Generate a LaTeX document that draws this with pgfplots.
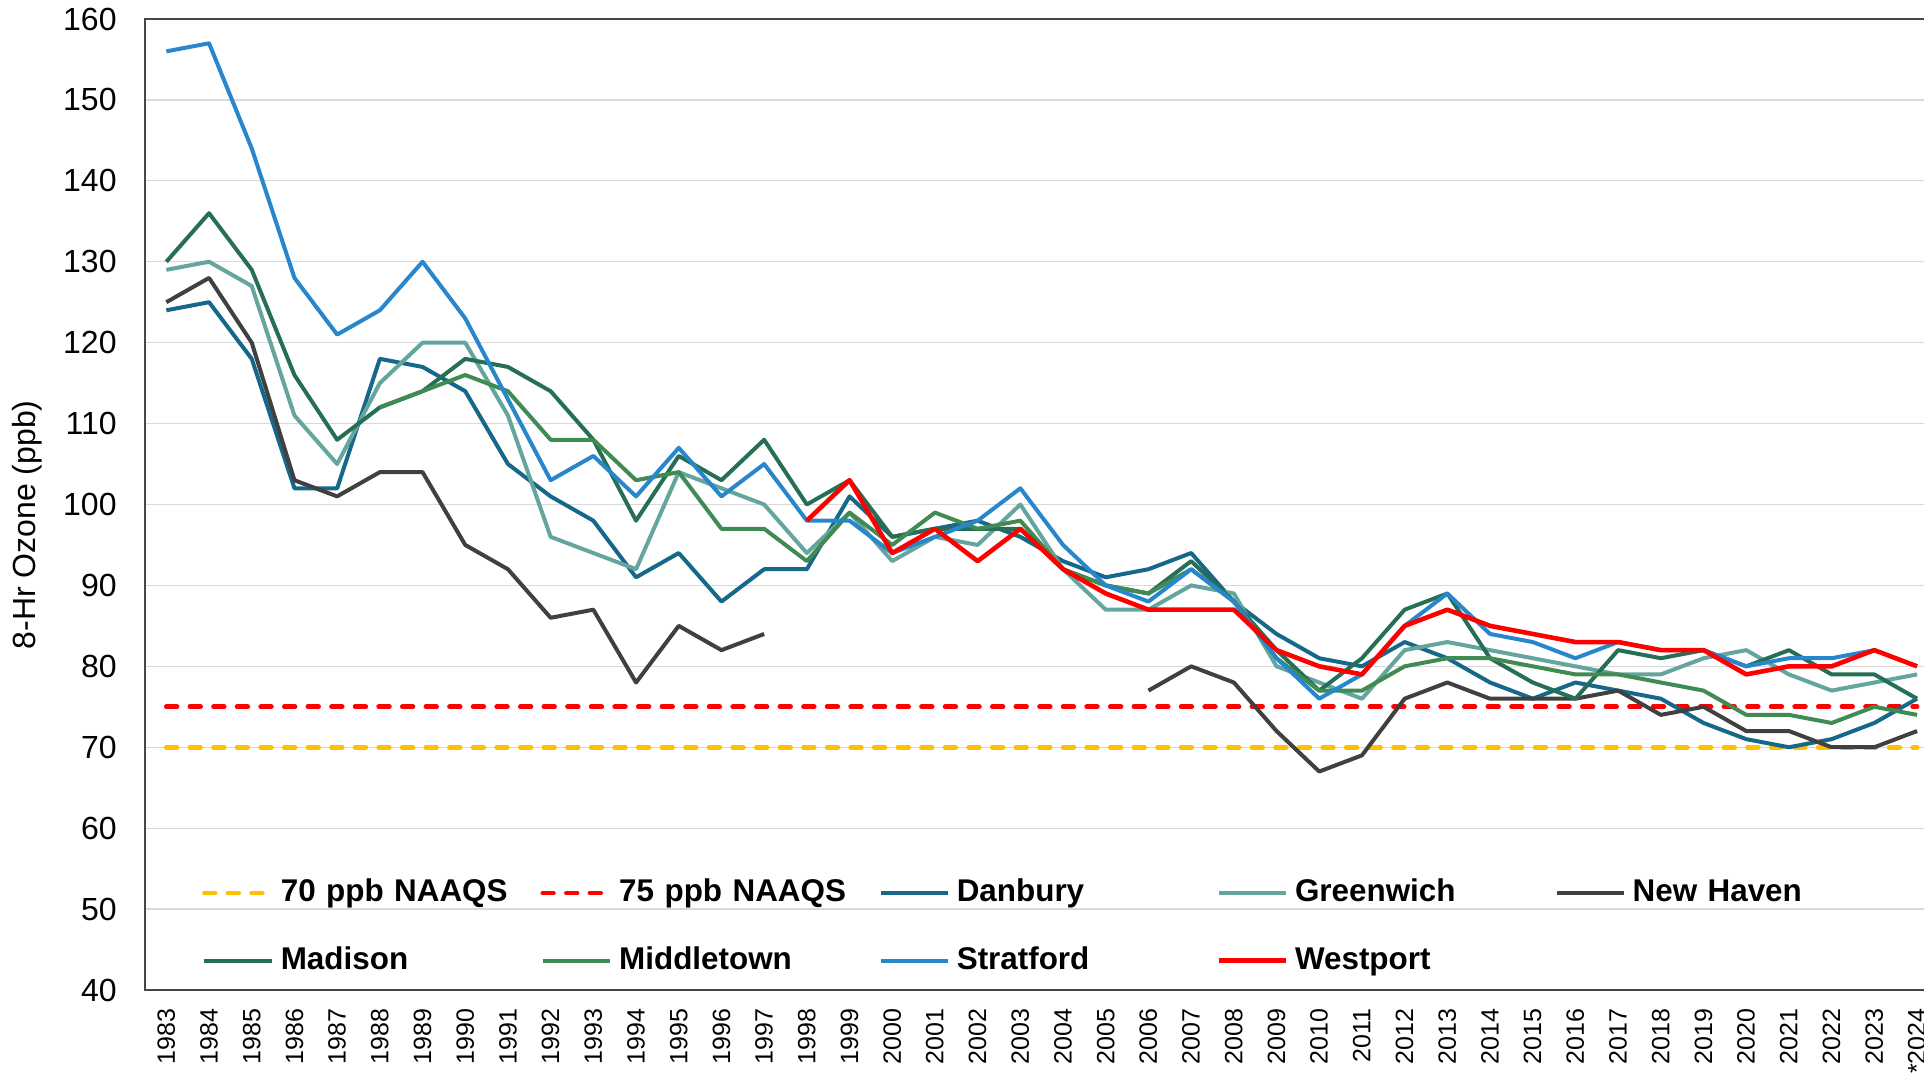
\documentclass[border=0pt]{standalone}
\usepackage{pgfplots}
\pgfplotsset{compat=1.18}
\usepackage{fontspec}
\setmainfont{Liberation Sans}
\definecolor{cDan}{RGB}{22,104,138}
\definecolor{cGre}{RGB}{100,165,158}
\definecolor{cNH}{RGB}{64,64,64}
\definecolor{cMad}{RGB}{38,110,86}
\definecolor{cMid}{RGB}{64,138,84}
\definecolor{cStr}{RGB}{40,134,204}
\definecolor{cWes}{RGB}{255,0,0}
\definecolor{cSeventy}{RGB}{255,192,0}
\definecolor{gridc}{RGB}{217,217,217}
\definecolor{axc}{RGB}{70,70,70}
\begin{document}
\begin{tikzpicture}
\useasboundingbox (-72.5pt,-43pt) rectangle (889.5pt,495pt);
\begin{axis}[
  at={(0pt,0pt)}, anchor=south west,
  scale only axis, width=896.7pt, height=485.5pt,
  xmin=1982.5, xmax=2024.5, ymin=40, ymax=160,
  xtick={1983,1984,...,2024},
  xticklabels={1983,1984,1985,1986,1987,1988,1989,1990,1991,1992,1993,1994,1995,1996,1997,1998,1999,2000,2001,2002,2003,2004,2005,2006,2007,2008,2009,2010,2011,2012,2013,2014,2015,2016,2017,2018,2019,2020,2021,2022,2023,*2024},
  ytick={40,50,...,160},
  ymajorgrids, grid style={color=gridc, line width=0.65pt},
  major tick length=0pt,
  axis line style={color=axc, line width=1.3pt},
  /pgf/number format/assume math mode=true,
  yticklabel style={font=\fontsize{16}{16}\selectfont, anchor=east, inner sep=0pt, xshift=-14pt},
  xticklabel style={font=\fontsize{12.5}{12.5}\selectfont, rotate=90, anchor=east, inner sep=0pt},
  xticklabel shift=9pt,
  ylabel={8-Hr Ozone (ppb)},
  ylabel style={font=\fontsize{16}{16}\selectfont, at={(axis description cs:-0.0655,0.479)}, anchor=center},
  unbounded coords=jump,
  legend columns=5,
  legend cell align=left,
  legend style={draw=none, fill=none, inner sep=0pt, outer sep=0pt,
    at={(axis description cs:0.0318,0.0651)}, anchor=west,
    font=\fontsize{15.7}{15.7}\selectfont\bfseries,
    nodes={text width=120pt, inner xsep=3.3pt, inner ysep=0pt, text height=12pt, text depth=3.5pt, align=left},
    row sep=18.25pt,
    /tikz/every even column/.append style={column sep=6.5pt}},
  legend image code/.code={\draw[#1] (0pt,0pt) -- (33.7pt,0pt);},
  every axis plot/.append style={line width=2pt, line join=round},
]
\addplot[color=cSeventy, line width=2.4pt, dash pattern=on 5.3pt off 6.5pt, line cap=round] coordinates {(1983,70) (2024,70)};
\addlegendentry{70 ppb NAAQS}
\addplot[color=cWes, line width=2.4pt, dash pattern=on 5.3pt off 6.5pt, line cap=round] coordinates {(1983,75) (2024,75)};
\addlegendentry{75 ppb NAAQS}
\addplot[color=cDan] coordinates {
(1983,124) (1984,125) (1985,118) (1986,102) (1987,102) (1988,118) (1989,117) (1990,114) (1991,105) (1992,101)
(1993,98) (1994,91) (1995,94) (1996,88) (1997,92) (1998,92) (1999,101) (2000,96) (2001,97) (2002,98)
(2003,96) (2004,93) (2005,91) (2006,92) (2007,94) (2008,88) (2009,84) (2010,81) (2011,80) (2012,83)
(2013,81) (2014,78) (2015,76) (2016,78) (2017,77) (2018,76) (2019,73) (2020,71) (2021,70) (2022,71)
(2023,73) (2024,76)};
\addlegendentry{Danbury}
\addplot[color=cGre] coordinates {
(1983,129) (1984,130) (1985,127) (1986,111) (1987,105) (1988,115) (1989,120) (1990,120) (1991,111) (1992,96)
(1993,94) (1994,92) (1995,104) (1996,102) (1997,100) (1998,94) (1999,99) (2000,93) (2001,96) (2002,95)
(2003,100) (2004,92) (2005,87) (2006,87) (2007,90) (2008,89) (2009,80) (2010,78) (2011,76) (2012,82)
(2013,83) (2014,82) (2015,81) (2016,80) (2017,79) (2018,79) (2019,81) (2020,82) (2021,79) (2022,77)
(2023,78) (2024,79)};
\addlegendentry{Greenwich}
\addplot[color=cNH] coordinates {
(1983,125) (1984,128) (1985,120) (1986,103) (1987,101) (1988,104) (1989,104) (1990,95) (1991,92) (1992,86)
(1993,87) (1994,78) (1995,85) (1996,82) (1997,84) (1998,nan)
(2006,77) (2007,80) (2008,78) (2009,72) (2010,67) (2011,69) (2012,76)
(2013,78) (2014,76) (2015,76) (2016,76) (2017,77) (2018,74) (2019,75) (2020,72) (2021,72) (2022,70)
(2023,70) (2024,72)};
\addlegendentry{New Haven}
\addplot[color=cMad] coordinates {
(1983,130) (1984,136) (1985,129) (1986,116) (1987,108) (1988,112) (1989,114) (1990,118) (1991,117) (1992,114)
(1993,108) (1994,98) (1995,106) (1996,103) (1997,108) (1998,100) (1999,103) (2000,96) (2001,97) (2002,97)
(2003,97) (2004,92) (2005,90) (2006,89) (2007,93) (2008,88) (2009,82) (2010,77) (2011,81) (2012,87)
(2013,89) (2014,81) (2015,78) (2016,76) (2017,82) (2018,81) (2019,82) (2020,80) (2021,82) (2022,79)
(2023,79) (2024,76)};
\addlegendentry{Madison}
\addplot[color=cMid] coordinates {
(1988,112) (1989,114) (1990,116) (1991,114) (1992,108)
(1993,108) (1994,103) (1995,104) (1996,97) (1997,97) (1998,93) (1999,99) (2000,95) (2001,99) (2002,97)
(2003,98) (2004,92) (2005,90) (2006,89) (2007,92) (2008,88) (2009,81) (2010,77) (2011,77) (2012,80)
(2013,81) (2014,81) (2015,80) (2016,79) (2017,79) (2018,78) (2019,77) (2020,74) (2021,74) (2022,73)
(2023,75) (2024,74)};
\addlegendentry{Middletown}
\addplot[color=cStr] coordinates {
(1983,156) (1984,157) (1985,144) (1986,128) (1987,121) (1988,124) (1989,130) (1990,123) (1991,113) (1992,103)
(1993,106) (1994,101) (1995,107) (1996,101) (1997,105) (1998,98) (1999,98) (2000,94) (2001,96) (2002,98)
(2003,102) (2004,95) (2005,90) (2006,88) (2007,92) (2008,88) (2009,81) (2010,76) (2011,79) (2012,85)
(2013,89) (2014,84) (2015,83) (2016,81) (2017,83) (2018,82) (2019,82) (2020,80) (2021,81) (2022,81)
(2023,82)};
\addlegendentry{Stratford}
\addplot[color=cWes, line width=2.3pt] coordinates {
(1998,98) (1999,103) (2000,94) (2001,97) (2002,93)
(2003,97) (2004,92) (2005,89) (2006,87) (2007,87) (2008,87) (2009,82) (2010,80) (2011,79) (2012,85)
(2013,87) (2014,85) (2015,84) (2016,83) (2017,83) (2018,82) (2019,82) (2020,79) (2021,80) (2022,80)
(2023,82) (2024,80)};
\addlegendentry{Westport}
\end{axis}
\end{tikzpicture}
\end{document}
